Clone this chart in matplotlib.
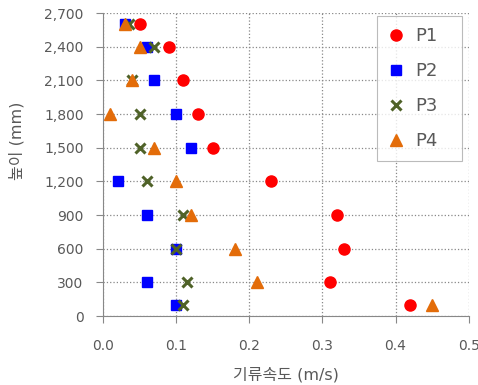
import numpy as np
import matplotlib.pyplot as plt
from matplotlib.ticker import FuncFormatter

plt.rcParams['font.family'] = ['DejaVu Sans', 'Noto Sans CJK KR']

# heights (mm) and airflow speed (m/s) at each position
height = [100, 300, 600, 900, 1200, 1500, 1800, 2100, 2400, 2600]
p1 = [0.42, 0.31, 0.33, 0.32, 0.23, 0.15, 0.13, 0.11, 0.09, 0.05]
p2 = [0.10, 0.06, 0.10, 0.06, 0.02, 0.12, 0.10, 0.07, 0.06, 0.03]
p3 = [0.11, 0.115, 0.10, 0.11, 0.06, 0.05, 0.05, 0.04, 0.07, 0.035]
p4 = [0.45, 0.21, 0.18, 0.12, 0.10, 0.07, 0.01, 0.04, 0.05, 0.03]

txt = '#595959'

fig = plt.figure(figsize=(4.78, 3.85), dpi=100)
ax = fig.add_axes([0.2155, 0.179, 0.765, 0.787])

ax.plot(p1, height, 'o', color='#FF0000', ms=8, label='P1', zorder=3)
ax.plot(p2, height, 's', color='#0000FF', ms=7.5, label='P2', zorder=3)
ax.plot(p3, height, 'x', color='#4F6228', ms=7, mew=2.2, label='P3', zorder=3)
ax.plot(p4, height, '^', color='#E36C09', ms=8.5, label='P4', zorder=3)

ax.set_xlim(0, 0.5)
ax.set_ylim(0, 2700)
ax.set_xticks(np.arange(0, 0.51, 0.1))
ax.set_yticks(np.arange(0, 2701, 300))
ax.xaxis.set_major_formatter(FuncFormatter(lambda v, p: f'{v:.1f}'))
ax.yaxis.set_major_formatter(FuncFormatter(lambda v, p: f'{int(v):,}'))

ax.grid(True, linestyle=':', color='#888888', linewidth=0.9)
ax.set_axisbelow(True)
for s in ['top', 'right']:
    ax.spines[s].set_visible(False)
for s in ['left', 'bottom']:
    ax.spines[s].set_color('#888888')
ax.tick_params(direction='out', length=5, color='#888888', labelsize=10, labelcolor=txt)
ax.tick_params(axis='x', pad=11.5)
ax.tick_params(axis='y', pad=9)

ax.set_xlabel('기류속도 (m/s)', fontsize=11.5, color=txt, labelpad=10)
ax.set_ylabel('높이 (mm)', fontsize=11.5, color=txt)
ax.yaxis.set_label_coords(-0.215, 0.58)

leg = ax.legend(loc='upper left', bbox_to_anchor=(0.749, 0.99, 0.234, 0.0), mode='expand',
                fontsize=13, frameon=True, fancybox=False, edgecolor='#AAAAAA',
                labelspacing=0.95, handletextpad=0.6, borderpad=0.6, handlelength=0.9,
                borderaxespad=0)
leg.get_frame().set_linewidth(0.8)
for t in leg.get_texts():
    t.set_color(txt)

fig.savefig('out.png', dpi=100)
